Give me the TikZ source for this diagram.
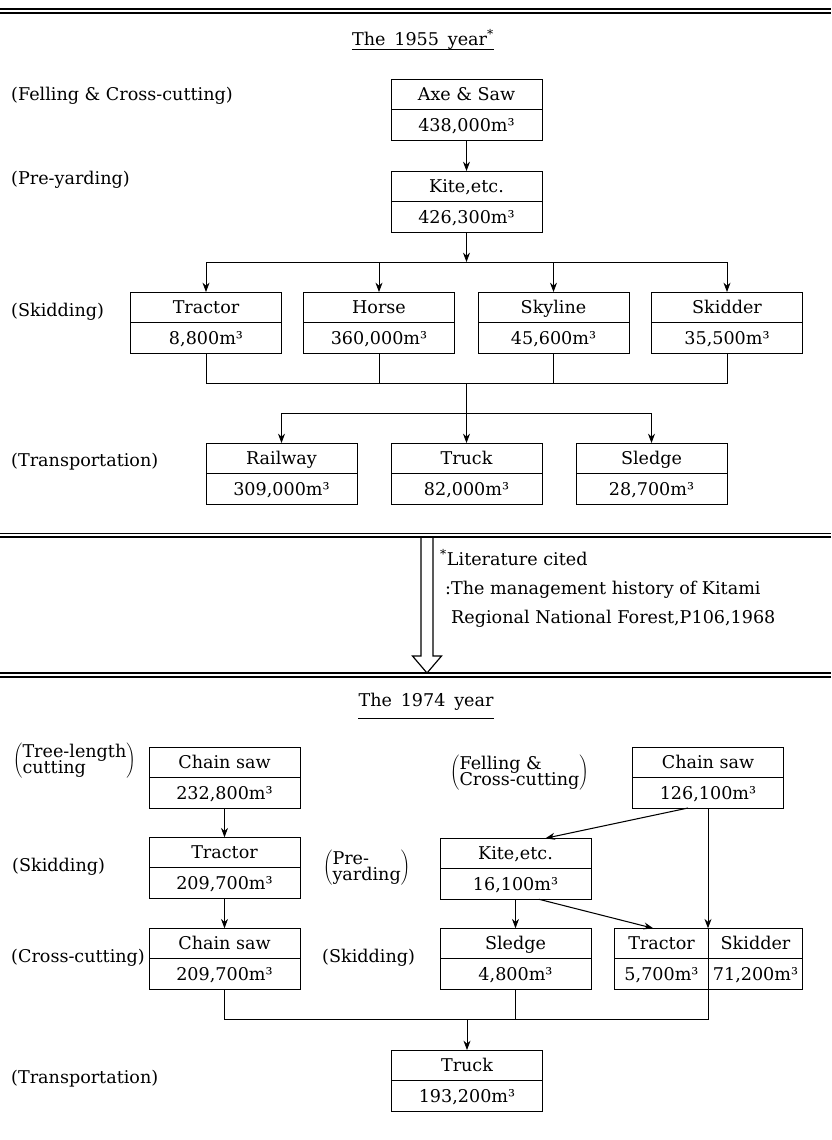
\documentclass[tikz,border=0pt]{standalone}
\usepackage{fontspec}
\setmainfont{DejaVu Serif}
\usepackage{tikz}
\usetikzlibrary{arrows.meta, positioning, calc}
\tikzstyle{cell} = [rectangle, minimum width=4.53cm, minimum height=0.915cm, inner sep=0pt, outer sep=0pt, text height=13pt, text depth=2pt, text centered, draw=black, line width=0.8pt]
\tikzstyle{halfcell} = [cell, minimum width=2.82cm]
\tikzstyle{stage} = [anchor=west, inner sep=0pt]
\tikzstyle{note} = [anchor=base west, inner sep=0pt]
\tikzstyle{heading} = [anchor=base, inner sep=0pt]
\tikzstyle{arrow} = [line width=0.7pt, -{Stealth[length=8pt, width=6pt]}]
\tikzstyle{link} = [line width=0.7pt]
\tikzstyle{rule} = [line width=0.9pt]
\newcommand{\cubm}[1]{#1m³}
\newcommand{\twoline}[2]{$\left(\begin{tabular}{@{}l@{}}#1\\[-4pt]#2\end{tabular}\right)$}

\begin{document}
\begin{tikzpicture}[x=0.03cm, y=0.03cm, node distance=0.915cm, font=\fontsize{15}{18}\selectfont]
  \useasboundingbox (0,0) rectangle (831,-1140);

  % the 1955 year
  \draw [rule] (0,-9) -- (831,-9);
  \draw [rule] (0,-13) -- (831,-13);
  \node (year1) [heading] at (423,-45) {The\hspace{0.5em}1955\hspace{0.5em}year\textsuperscript{*}};
  \draw [link] (year1.south west) -- (year1.south east);

  \node (lab1) [stage] at (11,-96) {(Felling \& Cross-cutting)};
  \node (lab2) [stage] at (11,-180) {(Pre-yarding)};
  \node (lab3) [stage] at (11,-312) {(Skidding)};
  \node (lab4) [stage] at (11,-462) {(Transportation)};

  \node (axe) [cell] at (466.5,-94.25) {Axe \& Saw};
  \node (axeV) [cell, below of=axe] {\cubm{438,000}};
  \node (kite) [cell] at (466.5,-186.25) {Kite,etc.};
  \node (kiteV) [cell, below of=kite] {\cubm{426,300}};

  \node (tractor) [cell] at (206,-307.25) {Tractor};
  \node (tractorV) [cell, below of=tractor] {\cubm{8,800}};
  \node (horse) [cell] at (379,-307.25) {Horse};
  \node (horseV) [cell, below of=horse] {\cubm{360,000}};
  \node (skyline) [cell] at (553.5,-307.25) {Skyline};
  \node (skylineV) [cell, below of=skyline] {\cubm{45,600}};
  \node (skidder) [cell] at (727,-307.25) {Skidder};
  \node (skidderV) [cell, below of=skidder] {\cubm{35,500}};

  \node (railway) [cell] at (281.5,-458.25) {Railway};
  \node (railwayV) [cell, below of=railway] {\cubm{309,000}};
  \node (truck) [cell] at (466.5,-458.25) {Truck};
  \node (truckV) [cell, below of=truck] {\cubm{82,000}};
  \node (sledge) [cell] at (651.5,-458.25) {Sledge};
  \node (sledgeV) [cell, below of=sledge] {\cubm{28,700}};

  \draw [arrow] (axeV) -- (kite);
  \coordinate (fork1) at (466.5,-262);
  \draw [arrow] (kiteV) -- (fork1);
  \draw [arrow] (fork1) -| (tractor);
  \draw [arrow] (fork1) -| (horse);
  \draw [arrow] (fork1) -| (skyline);
  \draw [arrow] (fork1) -| (skidder);

  \coordinate (join1) at (466.5,-383);
  \draw [link] (tractorV.south) |- (join1);
  \draw [link] (skidderV.south) |- (join1);
  \draw [link] (horseV.south) -- (horseV.south |- join1);
  \draw [link] (skylineV.south) -- (skylineV.south |- join1);
  \coordinate (fork2) at (466.5,-413);
  \draw [link] (join1) -- (fork2);
  \draw [arrow] (fork2) -| (railway);
  \draw [arrow] (fork2) -- (truck);
  \draw [arrow] (fork2) -| (sledge);

  % passage to 1974, with the footnote
  \draw [rule] (0,-533.5) -- (831,-533.5);
  \draw [rule] (0,-537) -- (831,-537);
  \coordinate (passtop) at (427,-537);
  \coordinate (passtip) at (427,-673);
  \draw [line width=1pt] ($(passtop)+(-6,0)$) -- ($(passtip)+(-6,17)$) -- ($(passtip)+(-14.5,17)$) -- (passtip)
    -- ($(passtip)+(14.5,17)$) -- ($(passtip)+(6,17)$) -- ($(passtop)+(6,0)$);
  \node (note1) [note] at (440,-565) {\textsuperscript{*}Literature cited};
  \node (note2) [note] at (445,-594) {:The management history of Kitami};
  \node (note3) [note] at (451,-623) {Regional National Forest,P106,1968};
  \draw [rule] (0,-673) -- (831,-673);
  \draw [rule] (0,-677) -- (831,-677);

  % the 1974 year
  \node (year2) [heading] at (426,-706) {The\hspace{0.5em}1974\hspace{0.5em}year};
  \draw [link] ([yshift=-0.24cm]year2.south west) -- ([yshift=-0.24cm]year2.south east);

  \node (treeLab) [stage] at (13,-761) {\twoline{Tree-length}{cutting}};
  \node (skidLab) [stage] at (12,-867) {(Skidding)};
  \node (cutLab) [stage] at (11,-958) {(Cross-cutting)};
  \node (transLab) [stage] at (11,-1079) {(Transportation)};
  \node (fellLab) [stage] at (450,-773) {\twoline{Felling \&}{Cross-cutting}};
  \node (preLab) [stage] at (323,-868) {\twoline{Pre-}{yarding}};
  \node (skidLab2) [stage] at (322,-958) {(Skidding)};

  \node (sawL) [cell] at (224.5,-762.25) {Chain saw};
  \node (sawLV) [cell, below of=sawL] {\cubm{232,800}};
  \node (tractorL) [cell] at (224.5,-852.5) {Tractor};
  \node (tractorLV) [cell, below of=tractorL] {\cubm{209,700}};
  \node (cut) [cell] at (224.5,-943.5) {Chain saw};
  \node (cutV) [cell, below of=cut] {\cubm{209,700}};
  \node (sawR) [cell] at (708,-762.25) {Chain saw};
  \node (sawRV) [cell, below of=sawR] {\cubm{126,100}};
  \node (kiteR) [cell] at (515.5,-853.5) {Kite,etc.};
  \node (kiteRV) [cell, below of=kiteR] {\cubm{16,100}};
  \node (sledge2) [cell] at (515.5,-943.5) {Sledge};
  \node (sledge2V) [cell, below of=sledge2] {\cubm{4,800}};
  \node (tractorR) [halfcell] at (661.5,-943.5) {Tractor};
  \node (tractorRV) [halfcell, below of=tractorR] {\cubm{5,700}};
  \node (skidderR) [halfcell, right=0pt of tractorR] {Skidder};
  \node (skidderRV) [halfcell, below of=skidderR] {\cubm{71,200}};
  \node (truck2) [cell] at (467,-1065.25) {Truck};
  \node (truck2V) [cell, below of=truck2] {\cubm{193,200}};

  \draw [arrow] (sawLV) -- (tractorL);
  \draw [arrow] (tractorLV) -- (cut);
  \draw [arrow, line width=0.9pt] ([xshift=-0.6cm]sawRV.south) -- ([xshift=0.9cm]kiteR.north);
  \draw [arrow] (sawRV.south) -- (sawRV.south |- tractorR.north);
  \draw [arrow] (kiteRV) -- (sledge2);
  \draw [arrow, line width=0.9pt] ([xshift=0.7cm]kiteRV.south) -- ([xshift=-0.25cm]tractorR.north);
  \coordinate (join2) at (467,-1019);
  \draw [link] (cutV.south) |- (join2);
  \draw [link] (sledge2V.south) -- (sledge2V.south |- join2);
  \draw [link] (tractorRV.south east) |- (join2);
  \draw [arrow] (join2) -- (truck2);
\end{tikzpicture}
\end{document}
